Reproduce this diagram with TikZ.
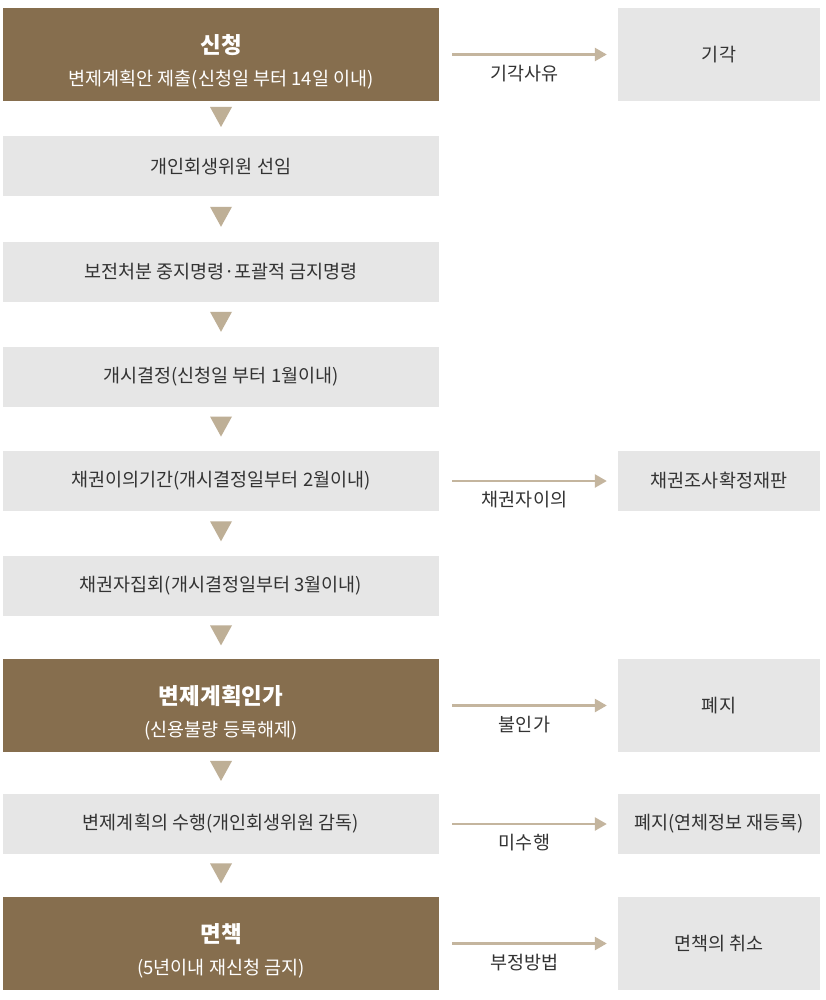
\documentclass[tikz,border=0pt]{standalone}
\usepackage{fontspec}
\setmainfont{Noto Sans CJK KR}
\usetikzlibrary{arrows.meta}
\definecolor{brownfill}{RGB}{134,110,78}
\definecolor{grayfill}{RGB}{230,230,230}
\definecolor{tanline}{RGB}{196,181,158}
\definecolor{tantri}{RGB}{190,175,150}
\definecolor{textgray}{RGB}{51,51,51}
\newcommand{\headtext}[1]{\rule{0pt}{34pt}{\fontsize{22.5}{24}\selectfont\bfseries #1}}
\begin{document}
\begin{tikzpicture}[x=1pt,y=-1pt,
    brownbox/.style={fill=brownfill,text=white,minimum width=436pt,minimum height=93pt,
      align=center,inner sep=0pt,font=\fontsize{18.5}{24}\selectfont},
    graybox/.style={fill=grayfill,text=textgray,minimum width=436pt,minimum height=60pt,
      inner sep=0pt,font=\fontsize{18.5}{24}\selectfont},
    sidebox/.style={fill=grayfill,text=textgray,minimum width=202pt,inner sep=0pt,
      font=\fontsize{18.5}{24}\selectfont},
    sidearrow/.style={draw=tanline,line width=2.5pt,-{Triangle[length=12pt,width=13pt]},
      shorten <=13pt,shorten >=11pt}
  ]
  \useasboundingbox[fill=white] (0,0) rectangle (825,1000);

  % main column
  \node[brownbox] (apply) at (221,54.5) {\headtext{신청}\\[8pt]변제계획안 제출(신청일 부터 14일 이내)};
  \node[graybox] (appoint) at (221,166.5) {개인회생위원 선임};
  \node[graybox] (preserve) at (221,271.5) {보전처분 중지명령·포괄적 금지명령};
  \node[graybox] (commence) at (221,376.5) {개시결정(신청일 부터 1월이내)};
  \node[graybox] (objection) at (221,481) {채권이의기간(개시결정일부터 2월이내)};
  \node[graybox] (meeting) at (221,586) {채권자집회(개시결정일부터 3월이내)};
  \node[brownbox] (approve) at (221,705.5) {\headtext{변제계획인가}\\[8pt](신용불량 등록해제)};
  \node[graybox] (perform) at (221,824) {변제계획의 수행(개인회생위원 감독)};
  \node[brownbox] (discharge) at (221,943.5) {\headtext{면책}\\[8pt](5년이내 재신청 금지)};

  % side results
  \node[sidebox,minimum height=93pt] (reject) at (719,54.5) {기각};
  \node[sidebox,minimum height=60pt] (trial) at (719,481) {채권조사확정재판};
  \node[sidebox,minimum height=93pt] (abolish) at (719,705.5) {폐지};
  \node[sidebox,minimum height=60pt] (abolishre) at (719,824) {폐지(연체정보 재등록)};
  \node[sidebox,minimum height=93pt] (cancel) at (719,943.5) {면책의 취소};

  % down triangles
  \foreach \a/\b in {apply/appoint,appoint/preserve,preserve/commence,commence/objection,
      objection/meeting,meeting/approve,approve/perform,perform/discharge} {
    \path (\a.south) -- (\b.north) coordinate[pos=0.45] (tri\a);
    \fill[tantri] (tri\a) +(-11,-10) -- +(11,-10) -- +(0,10) -- cycle;
  }

  % side arrows
  \foreach \a/\b/\t in {apply/reject/기각사유,objection/trial/채권자이의,approve/abolish/불인가,
      perform/abolishre/미수행,discharge/cancel/부정방법} {
    \draw[sidearrow] (\a) -- node[midway,yshift=-19pt,xshift=-4pt,text=textgray,
      font=\fontsize{18.5}{24}\selectfont] {\t} (\b);
  }
\end{tikzpicture}
\end{document}
